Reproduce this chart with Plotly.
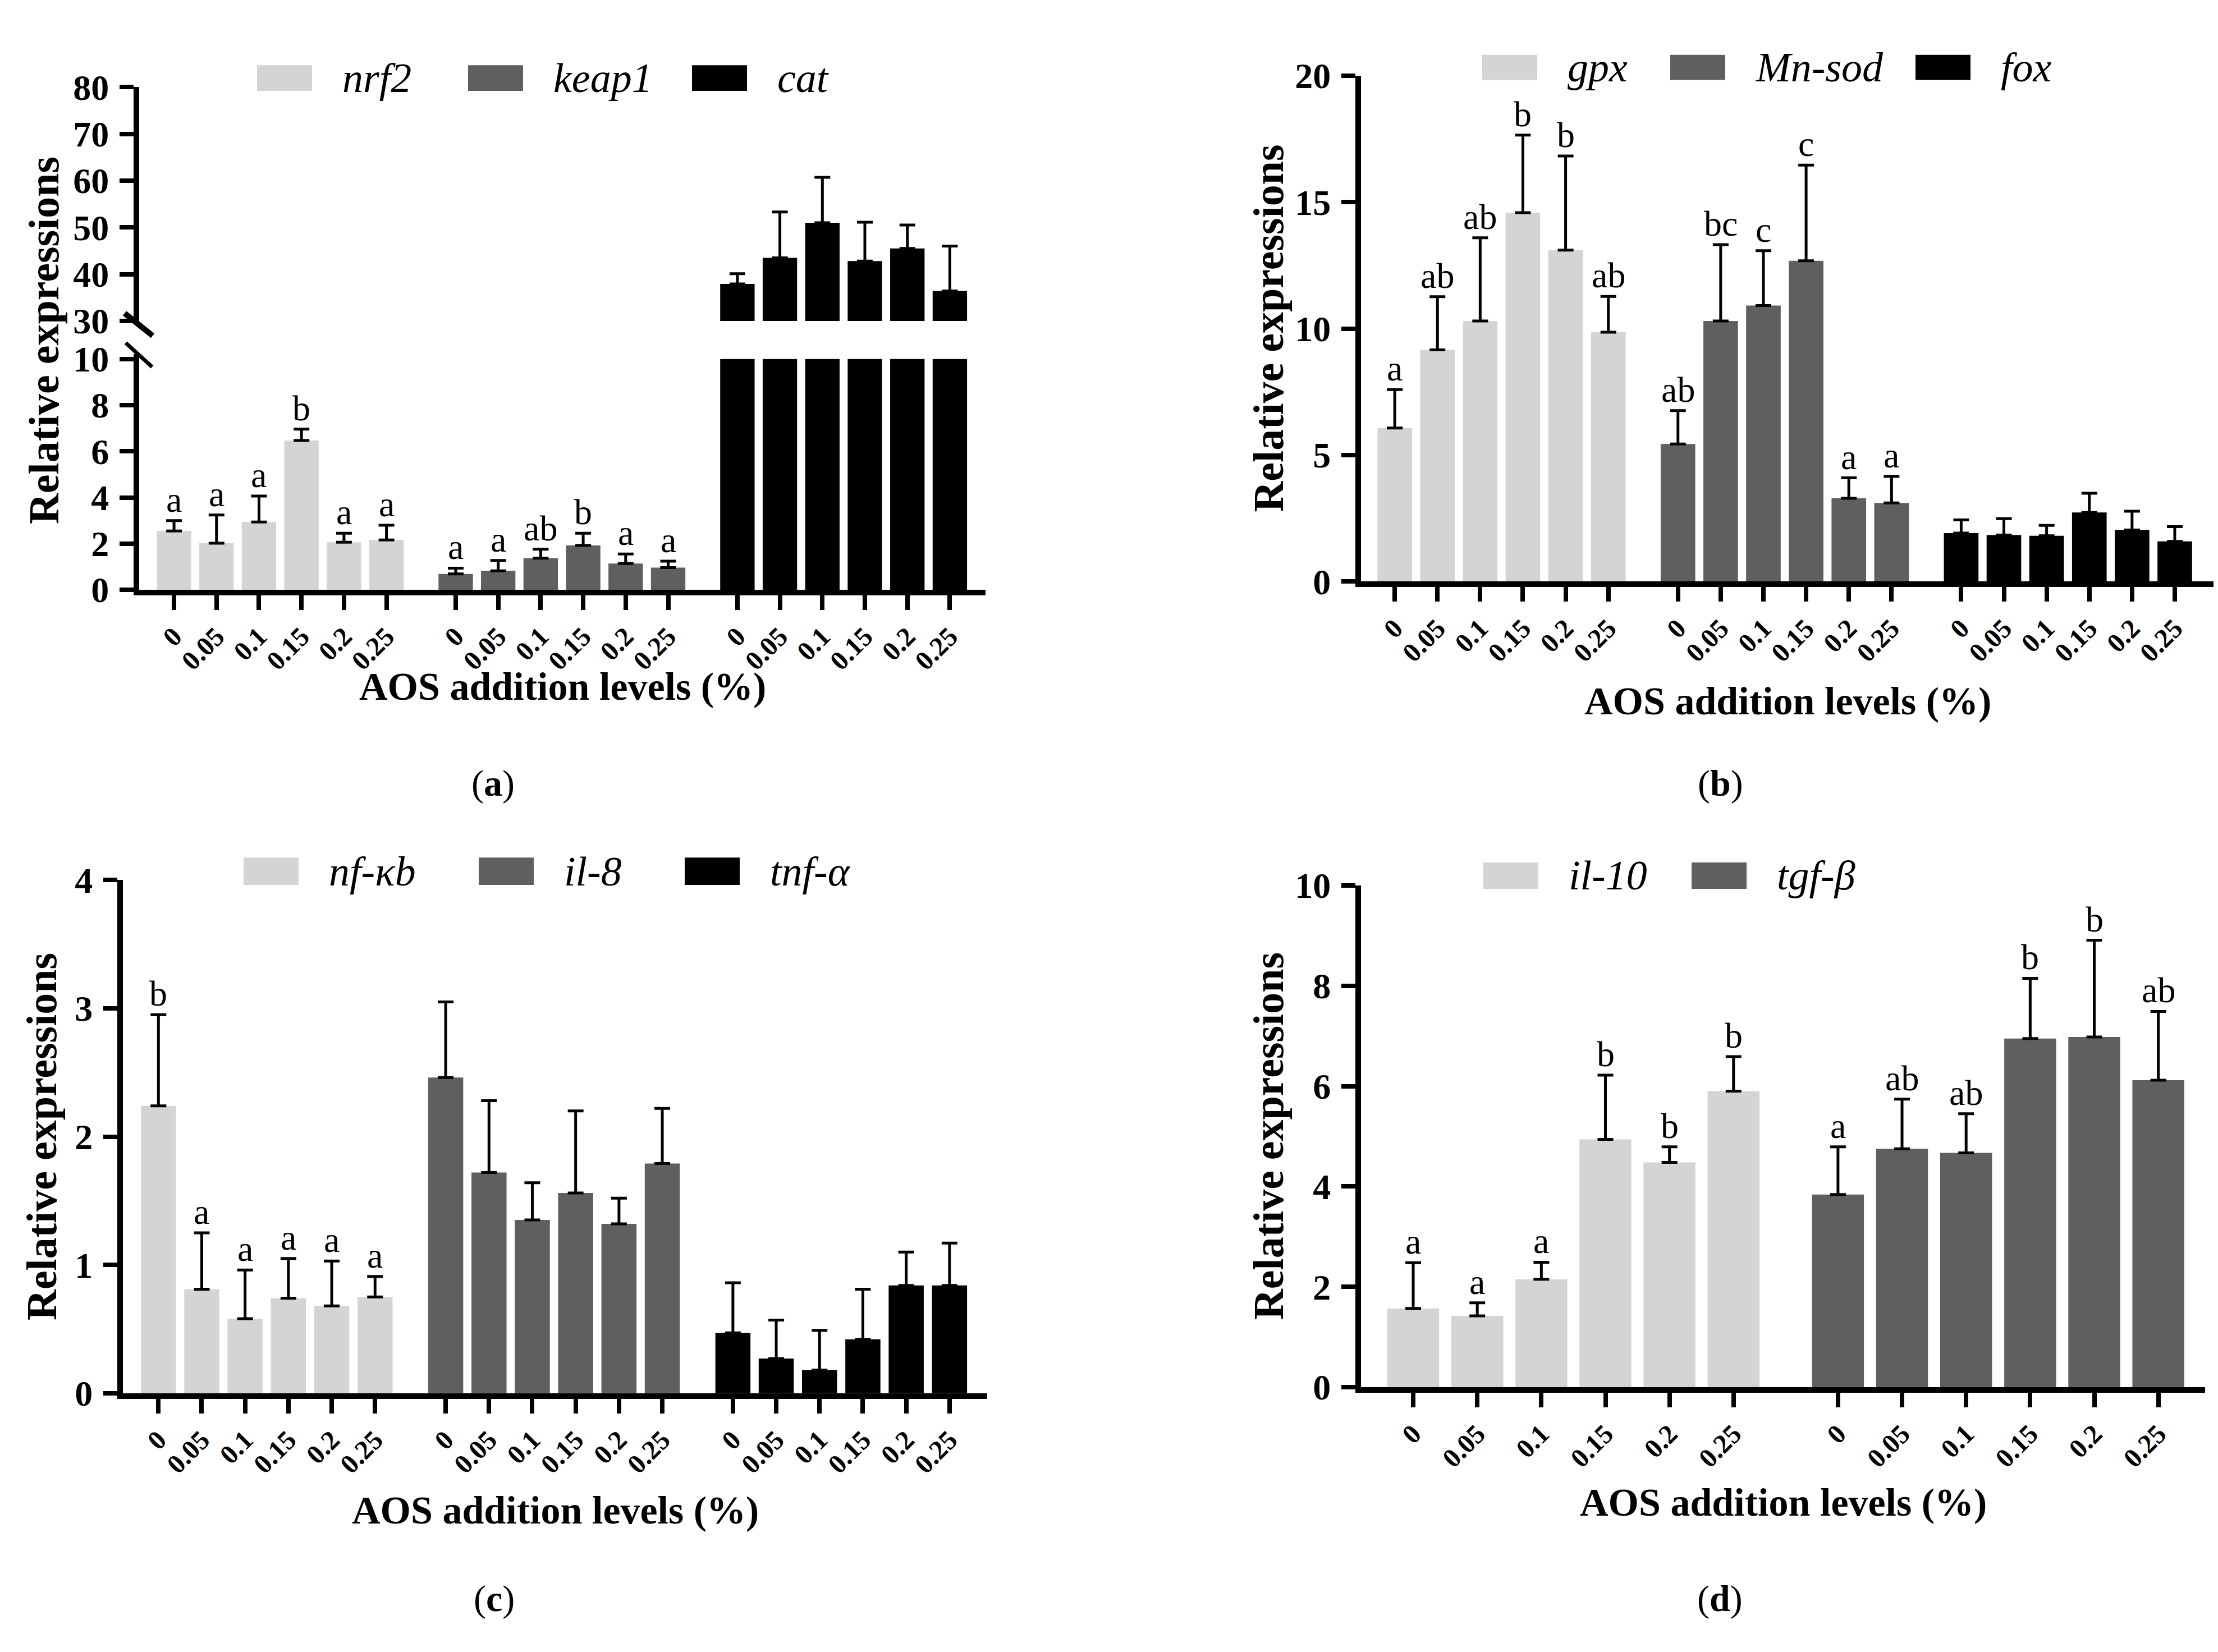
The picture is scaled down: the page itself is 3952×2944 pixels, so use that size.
import plotly.graph_objects as go

W, H = 3952, 2944
FONT = 'Liberation Serif'

LIGHT = '#d4d4d4'
DARK = '#5f5f5f'
BLACK = '#000000'

levels = ['0', '0.05', '0.1', '0.15', '0.2', '0.25']

# (a) antioxidant genes, cat on broken axis
nrf2 = [2.55, 2.02, 2.94, 6.47, 2.06, 2.16]
nrf2_sd = [0.45, 1.22, 1.12, 0.49, 0.39, 0.64]
nrf2_sig = ['a', 'a', 'a', 'b', 'a', 'a']
keap1 = [0.69, 0.82, 1.37, 1.92, 1.14, 0.96]
keap1_sd = [0.25, 0.45, 0.39, 0.53, 0.41, 0.28]
keap1_sig = ['a', 'a', 'ab', 'b', 'a', 'a']
cat = [37.9, 43.5, 51.0, 42.8, 45.5, 36.4]
cat_sd = [2.2, 9.8, 9.7, 8.3, 5.0, 9.6]

# (b)
gpx = [6.07, 9.16, 10.3, 14.58, 13.1, 9.86]
gpx_sd = [1.52, 2.10, 3.29, 3.07, 3.72, 1.41]
gpx_sig = ['a', 'ab', 'ab', 'b', 'b', 'ab']
mnsod = [5.44, 10.3, 10.91, 12.68, 3.29, 3.11]
mnsod_sd = [1.32, 3.02, 2.17, 3.78, 0.81, 1.05]
mnsod_sig = ['ab', 'bc', 'c', 'c', 'a', 'a']
fox = [1.92, 1.84, 1.81, 2.73, 2.04, 1.59]
fox_sd = [0.52, 0.65, 0.41, 0.76, 0.74, 0.58]

# (c)
nfkb = [2.24, 0.81, 0.58, 0.74, 0.68, 0.75]
nfkb_sd = [0.71, 0.44, 0.38, 0.31, 0.35, 0.16]
nfkb_sig = ['b', 'a', 'a', 'a', 'a', 'a']
il8 = [2.46, 1.72, 1.35, 1.56, 1.32, 1.79]
il8_sd = [0.59, 0.56, 0.29, 0.64, 0.20, 0.43]
tnfa = [0.47, 0.27, 0.18, 0.42, 0.84, 0.84]
tnfa_sd = [0.39, 0.30, 0.31, 0.39, 0.26, 0.33]

# (d)
il10 = [1.57, 1.42, 2.15, 4.94, 4.48, 5.90]
il10_sd = [0.91, 0.26, 0.34, 1.28, 0.31, 0.69]
il10_sig = ['a', 'a', 'a', 'b', 'b', 'b']
tgfb = [3.84, 4.75, 4.67, 6.95, 6.98, 6.12]
tgfb_sd = [0.95, 0.99, 0.78, 1.20, 1.93, 1.37]
tgfb_sig = ['a', 'ab', 'ab', 'b', 'b', 'ab']

STRIDE = 6.63
BAR_W = 0.81


def fx(p):
    return p / W


def fy(p):
    return 1 - p / H


fig = go.Figure()
annotations = []
shapes = []


def add_group(xa, ya, g, vals, sd=None, color=BLACK, sig=None, base=None):
    xs = [g * STRIDE + i for i in range(len(vals))]
    err = None
    if sd is not None:
        err = dict(type='data', array=sd, arrayminus=[0] * len(sd), symmetric=False,
                   color='black', thickness=5, width=14)
    ys = vals if base is None else [v - base for v in vals]
    fig.add_trace(go.Bar(x=xs, y=ys, base=base, width=BAR_W, marker_color=color,
                         marker_line_width=0, error_y=err, xaxis=xa, yaxis=ya,
                         showlegend=False))
    if sig is not None:
        for x, v, s, t in zip(xs, vals, sd, sig):
            annotations.append(dict(x=x, y=v + s, xref=xa, yref=ya, text=t,
                                    showarrow=False, yanchor='bottom', yshift=0,
                                    font=dict(family=FONT, size=64, color='black')))


# (a)
add_group('x', 'y', 0, nrf2, nrf2_sd, LIGHT, nrf2_sig)
add_group('x', 'y', 1, keap1, keap1_sd, DARK, keap1_sig)
add_group('x', 'y', 2, [min(v, 10) for v in cat], None, BLACK)
add_group('x', 'y2', 2, cat, cat_sd, BLACK, base=30)
# (b)
add_group('x2', 'y3', 0, gpx, gpx_sd, LIGHT, gpx_sig)
add_group('x2', 'y3', 1, mnsod, mnsod_sd, DARK, mnsod_sig)
add_group('x2', 'y3', 2, fox, fox_sd, BLACK)
# (c)
add_group('x3', 'y4', 0, nfkb, nfkb_sd, LIGHT, nfkb_sig)
add_group('x3', 'y4', 1, il8, il8_sd, DARK)
add_group('x3', 'y4', 2, tnfa, tnfa_sd, BLACK)
# (d)
add_group('x4', 'y5', 0, il10, il10_sd, LIGHT, il10_sig)
add_group('x4', 'y5', 1, tgfb, tgfb_sd, DARK, tgfb_sig)

line_style = dict(showline=True, linecolor='black', linewidth=10, ticks='outside',
                  tickcolor='black', tickwidth=8, showgrid=False, zeroline=False)


def xaxis(left, right, rng, ngroups, anchor):
    tv = [g * STRIDE + i for g in range(ngroups) for i in range(len(levels))]
    return dict(domain=[fx(left), fx(right)], range=rng, anchor=anchor,
                tickvals=tv, ticktext=levels * ngroups, tickangle=-45, ticklen=26,
                ticklabelstandoff=0,
                tickfont=dict(family=FONT, size=48, color='black', weight='bold'),
                **line_style)


def yaxis(top, bottom, rng, tickvals, anchor):
    return dict(domain=[fy(bottom), fy(top)], range=rng, anchor=anchor,
                tickvals=tickvals, ticklen=25, ticklabelstandoff=6,
                tickfont=dict(family=FONT, size=64, color='black', weight='bold'),
                **line_style)


layout_axes = dict(
    xaxis=xaxis(240, 1748, [-0.82, 19.1], 3, 'y'),
    yaxis=yaxis(603, 1033, [0, 10.2], [0, 2, 4, 6, 8, 10], 'x'),
    yaxis2=yaxis(115, 545, [29.65, 80], [30, 40, 50, 60, 70, 80], 'x'),
    xaxis2=xaxis(2417, 3937, [-0.79, 19.18], 3, 'y3'),
    yaxis3=yaxis(94, 1018, [0, 20], [0, 5, 10, 15, 20], 'x2'),
    xaxis3=xaxis(211, 1751, [-0.82, 19.13], 3, 'y4'),
    yaxis4=yaxis(1563, 2500, [0, 4], [0, 1, 2, 3, 4], 'x3'),
    xaxis4=xaxis(2417, 3921, [-0.815, 12.36], 2, 'y5'),
    yaxis5=yaxis(1573, 2489, [0, 10], [0, 2, 4, 6, 8, 10], 'x4'),
)

# axis break marks on (a)
shapes.append(dict(type='line', xref='paper', yref='paper', x0=fx(214), y0=fy(528),
                   x1=fx(264), y1=fy(569), line=dict(color='black', width=10)))
shapes.append(dict(type='line', xref='paper', yref='paper', x0=fx(216), y0=fy(582),
                   x1=fx(263), y1=fy(626), line=dict(color='black', width=7)))

# legends: (label, colour, swatch left px)
legends = [
    (75, 122, [('nrf2', LIGHT, 450), ('keap1', DARK, 826), ('cat', BLACK, 1225)]),
    (56, 102, [('gpx', LIGHT, 2633), ('Mn-sod', DARK, 2968), ('fox', BLACK, 3405)]),
    (1522, 1572, [('nf-κb', LIGHT, 426), ('il-8', DARK, 845), ('tnf-α', BLACK, 1212)]),
    (1531, 1579, [('il-10', LIGHT, 2635), ('tgf-β', DARK, 3006)]),
]
for top, bottom, items in legends:
    for label, color, left in items:
        shapes.append(dict(type='rect', xref='paper', yref='paper', x0=fx(left),
                           x1=fx(left + 98), y0=fy(bottom), y1=fy(top),
                           fillcolor=color, line=dict(width=0)))
        annotations.append(dict(x=fx(left + 150), y=fy((top + bottom) / 2), xref='paper',
                                yref='paper', text=label, showarrow=False, xanchor='left',
                                yanchor='middle',
                                font=dict(family=FONT, size=74, color='black', style='italic')))

# axis titles
ytitles = [(70, 578), (2252, 556), (66, 2032), (2252, 2031)]
for x, y in ytitles:
    annotations.append(dict(x=fx(x), y=fy(y), xref='paper', yref='paper',
                            text='Relative expressions', textangle=-90, showarrow=False,
                            xanchor='center', yanchor='middle',
                            font=dict(family=FONT, size=76, color='black', weight='bold')))
xtitles = [(994, 1210), (3177, 1236), (981, 2714), (3169, 2700)]
for x, y in xtitles:
    annotations.append(dict(x=fx(x), y=fy(y), xref='paper', yref='paper',
                            text='AOS addition levels (%)', showarrow=False,
                            xanchor='center', yanchor='middle',
                            font=dict(family=FONT, size=70, color='black', weight='bold')))

# panel labels
panels = [('a', 870, 1386), ('b', 3057, 1386), ('c', 872, 2875), ('d', 3056, 2875)]
for t, x, y in panels:
    annotations.append(dict(x=fx(x), y=fy(y), xref='paper', yref='paper',
                            text='(<b>' + t + '</b>)', showarrow=False,
                            xanchor='center', yanchor='middle',
                            font=dict(family=FONT, size=66, color='black')))

fig.update_layout(width=W, height=H, margin=dict(l=0, r=0, t=0, b=0),
                  paper_bgcolor='white', plot_bgcolor='white', barmode='overlay',
                  showlegend=False, annotations=annotations, shapes=shapes,
                  **layout_axes)

fig.write_html("out.html")
